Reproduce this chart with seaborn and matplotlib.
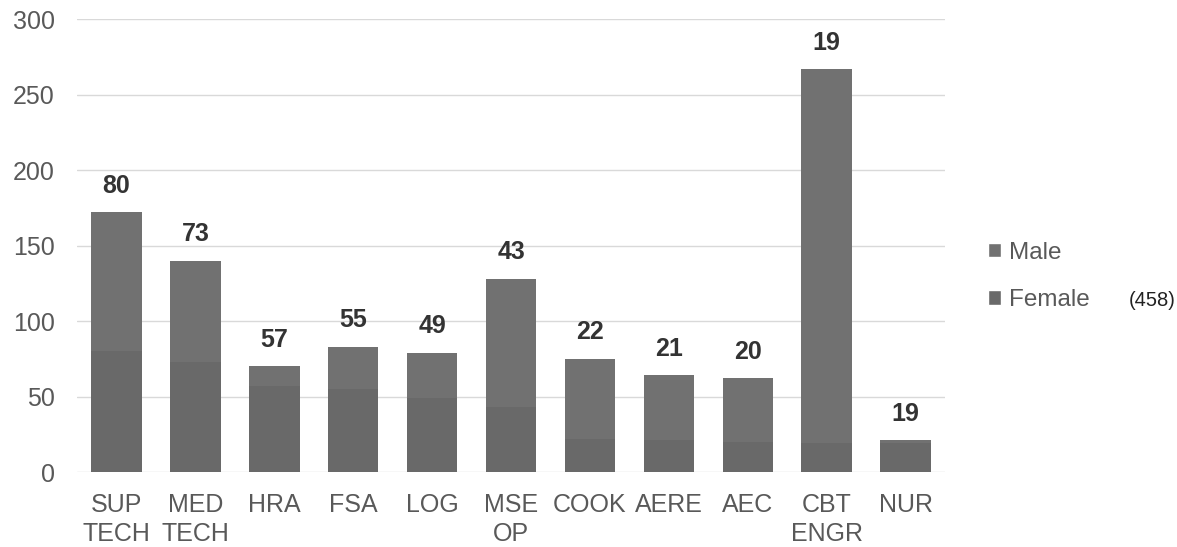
import matplotlib
matplotlib.use("Agg")
import matplotlib.pyplot as plt
from matplotlib.patches import Patch
import pandas as pd
import seaborn as sns

# Course enrolment by gender
courses = ["SUP\nTECH", "MED\nTECH", "HRA", "FSA", "LOG", "MSE\nOP",
           "COOK", "AERE", "AEC", "CBT\nENGR", "NUR"]
female = [80, 73, 57, 55, 49, 43, 22, 21, 20, 19, 19]
male = [92, 67, 13, 28, 30, 85, 53, 43, 42, 248, 2]
female_total_note = "(458)"

yticks = [0, 50, 100, 150, 200, 250, 300]

sns.set_theme(style="white")
plt.rcParams["font.family"] = ["Liberation Sans", "DejaVu Sans"]

male_color = "#717171"
female_color = "#696969"
text_gray = "#595959"

df = pd.DataFrame({"course": courses, "female": female, "male": male})
df["total"] = df["female"] + df["male"]

fig = plt.figure(figsize=(11.77, 5.47), dpi=100)
ax = fig.add_axes([0.0654, 0.137, 0.803 - 0.0654, 0.965 - 0.137])

# stacked bars: full height (male on top) first, female segment over it
sns.barplot(data=df, x="course", y="total", color=male_color, width=0.64,
            saturation=1, linewidth=0, ax=ax, zorder=2)
sns.barplot(data=df, x="course", y="female", color=female_color, width=0.64,
            saturation=1, linewidth=0, ax=ax, zorder=3)

ax.set_ylim(0, 300)
ax.set_xlim(-0.5, len(courses) - 0.5)
ax.set_yticks(yticks)
ax.yaxis.grid(True, color="#d9d9d9", linewidth=1)
ax.set_axisbelow(True)
for s in ax.spines.values():
    s.set_visible(False)
ax.set_xlabel("")
ax.set_ylabel("")
ax.tick_params(axis="y", length=0, pad=16, labelsize=18, labelcolor=text_gray)
ax.tick_params(axis="x", length=0, pad=15, labelsize=18, labelcolor=text_gray)
for lbl in ax.get_xticklabels():
    lbl.set_linespacing(1.28)

# female counts above each bar
for i, (f, t) in enumerate(zip(df["female"], df["total"])):
    ax.annotate(str(f), xy=(i, t), xytext=(0, 19), textcoords="offset points",
                ha="center", va="center", fontsize=18, fontweight="bold",
                color="#333333")

handles = [Patch(facecolor=male_color, label="Male"),
           Patch(facecolor=female_color, label="Female")]
fig.legend(handles=handles, loc="center left", bbox_to_anchor=(0.831, 0.4945),
           frameon=False, fontsize=17.5, labelcolor=text_gray,
           handlelength=0.53, handleheight=0.53, handletextpad=0.33,
           labelspacing=1.04, borderaxespad=0)
fig.text(0.9985, 1 - 300 / 547, female_total_note, ha="right", va="center",
         fontsize=14.5, color="#222222")

fig.savefig("out.png", dpi=100)
